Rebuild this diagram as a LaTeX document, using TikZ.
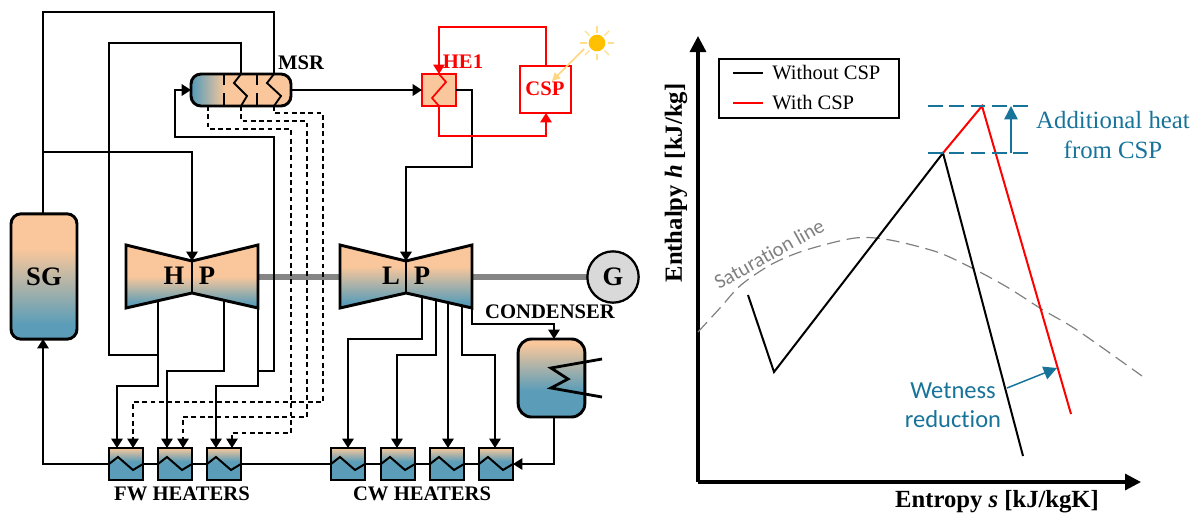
\documentclass[tikz,border=0pt]{standalone}
\usepackage{fontspec}
\setmainfont{Liberation Serif}
\newfontfamily\calibrifont[Ligatures=NoCommon]{Carlito}
\usetikzlibrary{arrows.meta}
\definecolor{hotpeach}{HTML}{F9C79B}
\definecolor{coolblue}{HTML}{5B9DB8}
\definecolor{tealtext}{HTML}{17739A}
\definecolor{shaftgray}{HTML}{858585}
\definecolor{sunyellow}{HTML}{FFC000}
\definecolor{raylight}{HTML}{FFDF8C}
\pgfdeclareverticalshading{sgshade}{100bp}{color(0bp)=(coolblue); color(31bp)=(coolblue); color(61bp)=(hotpeach); color(100bp)=(hotpeach)}
\pgfdeclareverticalshading{hpshade}{100bp}{color(0bp)=(coolblue); color(28bp)=(coolblue); color(50bp)=(hotpeach); color(100bp)=(hotpeach)}
\pgfdeclareverticalshading{lpshade}{100bp}{color(0bp)=(coolblue); color(29bp)=(coolblue); color(58bp)=(hotpeach); color(100bp)=(hotpeach)}
\pgfdeclareverticalshading{condshade}{100bp}{color(0bp)=(coolblue); color(42bp)=(coolblue); color(72bp)=(hotpeach); color(100bp)=(hotpeach)}
\pgfdeclareverticalshading{heatshade}{100bp}{color(0bp)=(coolblue); color(54bp)=(coolblue); color(75bp)=(hotpeach); color(100bp)=(hotpeach)}
\pgfdeclarehorizontalshading{msrshade}{100bp}{color(0bp)=(coolblue); color(26bp)=(coolblue); color(42bp)=(hotpeach); color(100bp)=(hotpeach)}
\tikzset{>={Triangle[length=7pt,width=8.5pt]}}
\tikzset{
  flow/.style={line width=1.4pt},
  mainflow/.style={line width=2.1pt},
  bleed/.style={line width=1.1pt,dash pattern=on 3.6pt off 2.6pt},
  heaterbox/.style={draw,line width=2.2pt,shading=heatshade,minimum width=25.5pt,minimum height=24pt,inner sep=0pt,outer sep=0pt},
  cspline/.style={red,line width=1.3pt},
  curve/.style={line width=1.5pt},
  teal/.style={tealtext,line width=1.1pt},
  bigtip/.style={-{Triangle[length=12pt,width=12pt]}},
  tealtip/.style={-{Triangle[length=10pt,width=10pt]}},
  partlabel/.style={font=\fontsize{15.5}{18}\selectfont\bfseries,inner sep=0pt},
  biglabel/.style={font=\fontsize{20}{24}\selectfont\bfseries,inner sep=0pt},
  axislabel/.style={font=\fontsize{18.5}{22}\selectfont\bfseries,inner sep=0pt},
  legendtext/.style={font=\fontsize{15.4}{18}\selectfont,anchor=west,inner sep=0pt}
}
\newcommand{\turbinebody}[2]{
  \draw[line width=2.2pt,shading=#2] (#1,261) -- (#1+66,245) -- (#1+66,308) -- (#1,293) -- (#1-66,308) -- (#1-66,245) -- cycle;
  \draw[line width=2.2pt] (#1,261) -- (#1,293);
}
\begin{document}
\begin{tikzpicture}[x=.75pt,y=-.75pt]
  \useasboundingbox (0,0) rectangle (1199,515);
  % shaft
  \draw[shaftgray,line width=3.8pt] (258,277) -- (587,277);
  % components
  \turbinebody{192}{hpshade}
  \turbinebody{406}{lpshade}
  \node[biglabel] (hpl) at (174,276) {H};
  \node[biglabel] (hpr) at (207,276) {P};
  \node[biglabel] (lpl) at (391,276) {L};
  \node[biglabel] (lpr) at (422,276) {P};
  \node[draw,line width=2.2pt,rounded corners=7.5pt,shading=sgshade,minimum width=49.5pt,minimum height=94pt,inner sep=0pt,outer sep=0pt,biglabel] (sg) at (44,276.5) {SG};
  \node[draw,line width=2.2pt,rounded corners=7.5pt,shading=msrshade,minimum width=75pt,minimum height=24pt,inner sep=0pt,outer sep=0pt] (msr) at (241,90) {};
  \node[draw,line width=2.2pt,rounded corners=10pt,shading=condshade,minimum width=50pt,minimum height=58.5pt,inner sep=0pt,outer sep=0pt] (cond) at (551.5,378) {};
  \node[draw,circle,line width=1.7pt,fill=gray!30,minimum size=38.5pt,inner sep=0pt,outer sep=0pt,biglabel] (gen) at (613,277) {G};
  \node[draw=red,fill=hotpeach,line width=1.3pt,minimum width=25.5pt,minimum height=24pt,inner sep=0pt,outer sep=0pt] (he) at (439,90) {};
  \node[draw=red,fill=white,line width=1.3pt,minimum width=38pt,minimum height=35pt,inner sep=0pt,outer sep=0pt] (csp) at (545.5,89.5) {};
  \node[partlabel,text=red] (csplabel) at (545,89) {CSP};
  \node[partlabel,text=red] (helabel) at (463,62) {HE1};
  \node[partlabel] (msrlabel) at (301,63) {MSR};
  \node[partlabel] (condlabel) at (550,312) {CONDENSER};
  \node[partlabel] (fwlabel) at (182,494) {FW HEATERS};
  \node[partlabel] (cwlabel) at (422,494) {CW HEATERS};
  % heaters
  \foreach \name/\x in {fw1/126,fw2/175,fw3/224,cw1/348,cw2/398,cw3/447,cw4/496}{
    \node[heaterbox] (\name) at (\x,464) {};
    \draw[flow,line width=1.5pt] (\x-17,464) -- (\x-8,457) -- (\x+7,470) -- (\x+17,464);
  }
  % ports
  \coordinate (fw1a) at (117,448);
  \coordinate (fw1b) at (133,448);
  \coordinate (fw2a) at (167,448);
  \coordinate (fw2b) at (183,448);
  \coordinate (fw3a) at (216,448);
  \coordinate (fw3b) at (232,448);
  \coordinate (cw1a) at (348,448);
  \coordinate (cw2a) at (397,448);
  \coordinate (cw3a) at (448,448);
  \coordinate (cw4a) at (495,448);
  \coordinate (hpin) at (192,261);
  \coordinate (lpin) at (406,261);
  \coordinate (hpex1) at (158,301);
  \coordinate (hpex2) at (224,301);
  \coordinate (hpex3) at (258,308);
  \coordinate (hpjoin) at (158,355);
  \coordinate (hpjoin2) at (258,371);
  \coordinate (lpex1) at (422,296);
  \coordinate (lpex2) at (436,299);
  \coordinate (lpex3) at (448,302);
  \coordinate (lpex4) at (462,305);
  \coordinate (lpex5) at (472,308);
  \coordinate (condin) at (554,339);
  \coordinate (condout) at (554,417);
  \coordinate (sgin) at (43,339);
  \coordinate (sgout) at (43,214);
  \coordinate (sgtap) at (43,152);
  \coordinate (msrdr1) at (208,106);
  \coordinate (msrtop1) at (241,74);
  \coordinate (msrbot1) at (241,106);
  \coordinate (msrtop2) at (274,74);
  \coordinate (msrbot2) at (274,106);
  \coordinate (msrin) at (191,90);
  \coordinate (hetop) at (439,74);
  \coordinate (hebot) at (439,106);
  \coordinate (cspin) at (546,113);
  \coordinate (cspout) at (546,66);
  % lines
  \draw[flow] (sgout) -- (43,12) -| (msrtop2);
  \draw[flow,->] (sgtap) -| (hpin);
  \draw[flow] (hpjoin) -- (109,355) |- (241,43) -- (msrtop1);
  \draw[flow,->] (hpex1) -- (158,386) -| (fw1a);
  \draw[flow,->] (hpex2) -- (224,371) -| (fw2a);
  \draw[flow,->] (hpjoin2) -- (258,386) -| (fw3a);
  \draw[mainflow] (hpex3) -- (hpjoin2);
  \draw[mainflow,->] (hpjoin2) -- (274,371) -- (274,137) -- (175,137) |- (msrin);
  \draw[mainflow,->] (msr.east) -- (he.west);
  \draw[mainflow,->] (he.east) -- (472,90) -- (472,167) -| (lpin);
  \draw[flow,->] (lpex1) -- (422,339) -| (cw1a);
  \draw[flow,->] (lpex2) -- (436,355) -| (cw2a);
  \draw[flow,->] (lpex3) -- (cw3a);
  \draw[flow,->] (lpex4) -- (462,355) -| (cw4a);
  \draw[flow,->] (lpex5) -- (472,324) -| (condin);
  \draw[flow,->] (condout) |- (cw4.east);
  \draw[flow] (cw4.west) -- (cw3.east);
  \draw[flow] (cw3.west) -- (cw2.east);
  \draw[flow] (cw2.west) -- (cw1.east);
  \draw[flow] (cw1.west) -- (fw3.east);
  \draw[flow] (fw3.west) -- (fw2.east);
  \draw[flow] (fw2.west) -- (fw1.east);
  \draw[flow,->] (fw1.west) -| (sgin);
  % drains
  \draw[bleed,->] (msrdr1) -- (208,129) -- (291,129) -- (291,433) -| (fw3b);
  \draw[bleed,->] (msrbot1) -- (241,121) -- (307,121) -- (307,417) -| (fw2b);
  \draw[bleed,->] (msrbot2) -- (274,113) -- (323,113) -- (323,402) -| (fw1b);
  % msr internals
  \draw[flow] (224,74) -- (224,85);
  \draw[flow] (224,93) -- (224,106);
  \draw[flow] (257,74) -- (257,85);
  \draw[flow] (257,93) -- (257,106);
  \draw[flow] (msrtop1) -- (234,83) -- (247,96) -- (msrbot1);
  \draw[flow] (msrtop2) -- (267,83) -- (281,96) -- (msrbot2);
  % condenser coil
  \draw[mainflow] (602,359) -- (551,368) -- (568,379) -- (551,388) -- (602,397);
  % csp loop
  \draw[cspline,->] (cspout) -- (546,27) -| (hetop);
  \draw[cspline,->] (hebot) -- (439,136) -| (cspin);
  \draw[cspline] (hetop) -- (446,82) -- (432,98) -- (hebot);
  % sun
  \node[circle,fill=sunyellow,minimum size=12.5pt,inner sep=0pt] (sun) at (597,43) {};
  \foreach \a in {0,45,...,315}{
    \draw[raylight,line width=1pt] (sun) ++(\a:10.5) -- ++(\a:6.5);
  }
  \coordinate (sunray) at (584,49);
  \draw[raylight!90!orange,line width=1.1pt,-{Triangle[length=6pt,width=6pt]}] (sunray) -- (552,81);
  % axes
  \coordinate (orig) at (698,482);
  \draw[line width=2.4pt,bigtip] (orig) -- (698,36);
  \draw[line width=2.4pt,bigtip] (orig) -- (1141,482);
  \node[axislabel,rotate=90] (ylabel) at (676,183) {Enthalpy {\itshape h} [kJ/kg]};
  \node[axislabel] (xlabel) at (997,502) {Entropy {\itshape s} [kJ/kgK]};
  % saturation line
  \draw[gray,line width=.9pt,dash pattern=on 10pt off 5pt] plot[smooth] coordinates {(698,332) (720,308) (741,285) (772,264) (806,250) (855,238) (890,240) (937,252) (970,267) (1007,287) (1043,310) (1077,330) (1142,376)};
  \node[gray,rotate=29,font=\calibrifont\fontsize{15.5}{18}\selectfont,inner sep=0pt] (satlabel) at (769,254) {Saturation line};
  % cycle
  \coordinate (c1) at (748,295);
  \coordinate (c2) at (774,372);
  \coordinate (c3) at (943,153);
  \coordinate (c4) at (1023,456);
  \coordinate (c5) at (982,106);
  \coordinate (c6) at (1071,414);
  \draw[curve] (c1) -- (c2) -- (c3) -- (c4);
  \draw[curve,red] (c3) -- (c5) -- (c6);
  % annotations
  \coordinate (d1) at (928,106);
  \coordinate (d2) at (1034,106);
  \coordinate (d3) at (928,153);
  \coordinate (d4) at (1034,153);
  \coordinate (h1) at (1011,153);
  \coordinate (h2) at (1011,106);
  \draw[teal,dash pattern=on 11pt off 5pt] (d1) -- (d2);
  \draw[teal,dash pattern=on 11pt off 5pt] (d3) -- (d4);
  \draw[teal,tealtip] (h1) -- (h2);
  \node[text=tealtext,align=center,font=\fontsize{18.6}{22.5}\selectfont,inner sep=0pt] (addheat) at (1113,135) {Additional heat\\from CSP};
  \coordinate (w1) at (1007,388);
  \coordinate (w2) at (1057,368);
  \draw[teal,tealtip] (w1) -- (w2);
  \node[text=tealtext,align=center,font=\calibrifont\fontsize{18.4}{22}\selectfont,inner sep=0pt] (wetness) at (953,405) {Wetness\\reduction};
  % legend
  \node[draw,line width=1.1pt,minimum width=135pt,minimum height=44.25pt,inner sep=0pt,outer sep=0pt] (legend) at (809,88.5) {};
  \coordinate (l1) at (733,73);
  \coordinate (l2) at (763,73);
  \coordinate (l3) at (733,103);
  \coordinate (l4) at (763,103);
  \draw[curve] (l1) -- (l2);
  \draw[curve,red] (l3) -- (l4);
  \node[legendtext] (leg1) at (772,73) {Without CSP};
  \node[legendtext] (leg2) at (772,103) {With CSP};
\end{tikzpicture}
\end{document}
